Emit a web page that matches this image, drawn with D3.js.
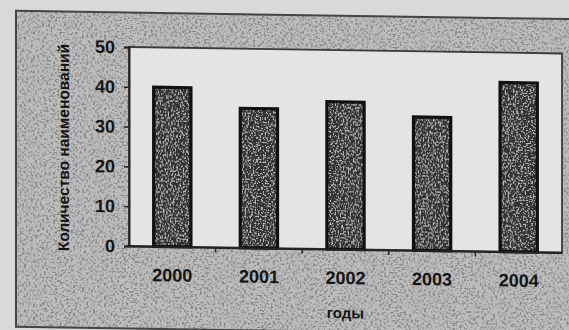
<!DOCTYPE html>
<html>
<head>
    <meta charset="utf-8">
    <title>Количество наименований по годам</title>
    <script src="https://d3js.org/d3.v7.min.js" charset="utf-8"></script>
</head>
<body>
    <style>
        html, body { margin: 0; padding: 0; background: #d9d9d9; }
        svg { display: block; }
        text { font-family: "Liberation Sans", Arial, sans-serif; font-weight: bold; fill: #151515; }
    </style>
    <div id="chart"></div>
    <script>
        // data
        const years = ["2000", "2001", "2002", "2003", "2004"];
        const counts = [40, 35, 37, 33.5, 42.5];
        const yTicks = [0, 10, 20, 30, 40, 50];
        const yTitle = "Количество наименований";
        const xTitle = "годы";

        const width = 569, height = 330;
        const plot = { left: 129, right: 562, top: 47, bottom: 246 };

        const svg = d3.select("#chart").append("svg")
            .attr("width", width)
            .attr("height", height);

        const defs = svg.append("defs");

        // speckled scan texture: spots laid over a fill
        function addSpeckle(id, freq, seed, tone, matrixAlpha, op) {
            const f = defs.append("filter").attr("id", id)
                .attr("x", 0).attr("y", 0).attr("width", "100%").attr("height", "100%");
            f.append("feTurbulence").attr("type", "fractalNoise")
                .attr("baseFrequency", freq).attr("numOctaves", 1).attr("seed", seed).attr("result", "n");
            f.append("feColorMatrix").attr("in", "n").attr("type", "matrix")
                .attr("values", `0 0 0 0 ${tone}  0 0 0 0 ${tone}  0 0 0 0 ${tone}  ${matrixAlpha}`)
                .attr("result", "spots");
            f.append("feComposite").attr("in", "spots").attr("in2", "SourceGraphic").attr("operator", op);
        }
        addSpeckle("speck", "0.45 0.6", 7, 0.25, "11 0 0 0 -5.7", "atop");
        addSpeckle("barspeck", "0.6 0.7", 3, 0.5, "10 0 0 0 -5.4", "atop");

        // the scan is slightly skewed, lines run downhill to the right
        const skew = 0.86;
        const g = svg.append("g")
            .attr("transform", `translate(${plot.left},0) skewY(${skew}) translate(${-plot.left},0)`);

        // chart frame
        g.append("rect")
            .attr("x", 16).attr("y", 12.5)
            .attr("width", 570).attr("height", 316)
            .attr("fill", "#bdbdbd")
            .attr("filter", "url(#speck)");
        g.append("rect")
            .attr("x", 16).attr("y", 12.5)
            .attr("width", 570).attr("height", 316)
            .attr("fill", "none")
            .attr("stroke", "#444").attr("stroke-width", 2);

        // plot area
        g.append("rect")
            .attr("x", plot.left).attr("y", plot.top)
            .attr("width", plot.right - plot.left).attr("height", plot.bottom - plot.top)
            .attr("fill", "#e4e4e4")
            .attr("stroke", "#3a3a3a").attr("stroke-width", 1.8);

        // scales
        const x = d3.scaleBand()
            .domain(years)
            .range([plot.left, plot.right])
            .paddingInner(0.57)
            .paddingOuter(0.285);

        const y = d3.scaleLinear()
            .domain([0, 50])
            .range([plot.bottom, plot.top]);

        // bars
        g.selectAll(".bar")
            .data(years)
            .enter()
            .append("rect")
            .attr("class", "bar")
            .attr("x", d => x(d))
            .attr("y", (d, i) => y(counts[i]))
            .attr("width", x.bandwidth())
            .attr("height", (d, i) => y(0) - y(counts[i]))
            .attr("fill", "#333")
            .attr("filter", "url(#barspeck)");

        g.selectAll(".bar-edge")
            .data(years)
            .enter()
            .append("rect")
            .attr("class", "bar-edge")
            .attr("x", d => x(d))
            .attr("y", (d, i) => y(counts[i]))
            .attr("width", x.bandwidth())
            .attr("height", (d, i) => y(0) - y(counts[i]))
            .attr("fill", "none")
            .attr("stroke", "#111")
            .attr("stroke-width", 3.2);

        // y axis
        const yAxis = g.append("g")
            .attr("transform", `translate(${plot.left},0)`)
            .call(d3.axisLeft(y).tickValues(yTicks).tickSize(5).tickPadding(9));
        yAxis.select(".domain").attr("stroke", "#222").attr("stroke-width", 2);
        yAxis.selectAll(".tick line").attr("stroke", "#222").attr("stroke-width", 1.5);
        yAxis.selectAll("text").style("font-size", "18px")
            .style("font-family", "'Liberation Sans', Arial, sans-serif")
            .style("font-weight", "bold").attr("fill", "#151515");

        // x axis: labels under bars, small ticks between categories
        const xAxis = g.append("g")
            .attr("transform", `translate(0,${plot.bottom})`)
            .call(d3.axisBottom(x).tickSize(0).tickPadding(22));
        xAxis.select(".domain").attr("stroke", "#222").attr("stroke-width", 2);
        xAxis.selectAll("text").style("font-size", "18px")
            .style("font-family", "'Liberation Sans', Arial, sans-serif")
            .style("font-weight", "bold").attr("fill", "#151515");

        const gap = x.step() * x.paddingInner() / 2;
        g.selectAll(".xsep")
            .data(years.slice(1))
            .enter()
            .append("line")
            .attr("class", "xsep")
            .attr("x1", d => x(d) - gap).attr("x2", d => x(d) - gap)
            .attr("y1", plot.bottom).attr("y2", plot.bottom + 5)
            .attr("stroke", "#222").attr("stroke-width", 1.5);

        // axis titles
        g.append("text")
            .attr("transform", `translate(65, ${(plot.top + plot.bottom) / 2 + 2}) rotate(-90)`)
            .attr("text-anchor", "middle")
            .attr("dominant-baseline", "middle")
            .style("font-size", "15.5px")
            .text(yTitle);

        g.append("text")
            .attr("x", (plot.left + plot.right) / 2)
            .attr("y", 315)
            .attr("text-anchor", "middle")
            .style("font-size", "15px")
            .text(xTitle);
    </script>
</body>
</html>
